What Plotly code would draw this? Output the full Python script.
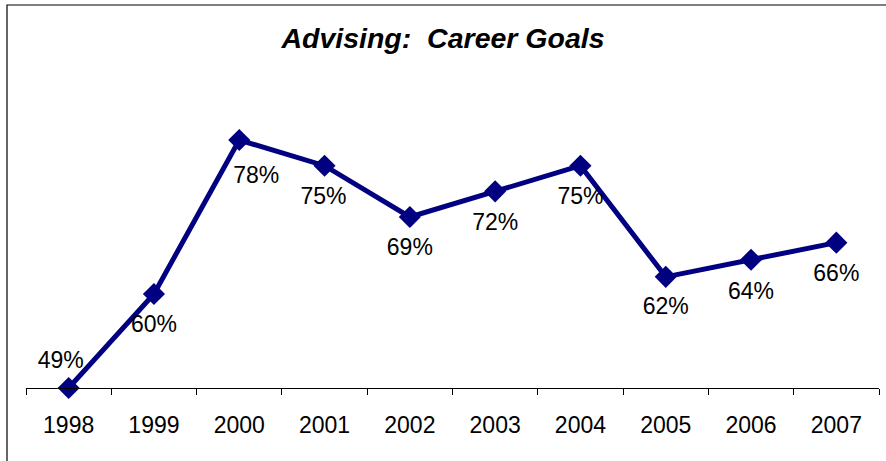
import plotly.graph_objects as go

years = [1998, 1999, 2000, 2001, 2002, 2003, 2004, 2005, 2006, 2007]
values = [49, 60, 78, 75, 69, 72, 75, 62, 64, 66]
labels = ["49%", "60%", "78%", "75%", "69%", "72%", "75%", "62%", "64%", "66%"]
tick_labels = ["1998", "1999", "2000", "2001", "2002", "2003", "2004", "2005", "2006", "2007"]

# label placement offsets in pixels (dx right, dy down)
label_offsets = [(-8, -26), (0, 32), (17, 37), (-1, 33), (0, 32),
                 (0, 33), (0, 33), (0, 31), (0, 33), (0, 33)]

W, H = 886, 461
L, R, T, B = 26, 7, 60, 73
pw = W - L - R
ph = H - T - B
ppu = 8.55
ytop = 49 + ph / ppu
x0, x1 = years[0] - 0.5, years[-1] + 0.5
ppx = pw / (x1 - x0)

FONT = "Liberation Sans, Arial, sans-serif"

fig = go.Figure()
fig.add_trace(go.Scatter(
    x=years, y=values, mode="lines+markers",
    line=dict(color="#000080", width=5),
    marker=dict(symbol="diamond", size=17, color="#000080"),
    cliponaxis=False, hoverinfo="skip",
))
fig.add_trace(go.Scatter(
    x=[x + dx / ppx for x, (dx, dy) in zip(years, label_offsets)],
    y=[v - dy / ppu for v, (dx, dy) in zip(values, label_offsets)],
    text=labels, mode="text", textposition="middle center",
    textfont=dict(family=FONT, size=23, color="black"),
    cliponaxis=False, hoverinfo="skip",
))

fig.add_shape(type="rect", xref="paper", yref="paper",
              x0=(7 - L) / pw, x1=(W + 20 - L) / pw,
              y0=(H - B - (H + 20)) / ph, y1=(H - B - 5) / ph,
              line=dict(color="black", width=1.2), fillcolor="rgba(0,0,0,0)", layer="below")

boundaries = [y - 0.5 for y in years] + [years[-1] + 0.5]

fig.update_layout(
    width=W, height=H,
    margin=dict(l=L, r=R, t=T, b=B, autoexpand=False),
    paper_bgcolor="white", plot_bgcolor="white",
    showlegend=False,
    title=dict(text="<b><i>Advising:  Career Goals</i></b>", x=0.5, xanchor="center",
               y=1 - 38 / H, yanchor="middle", yref="container",
               font=dict(family=FONT, size=28.5, color="black")),
    xaxis=dict(range=[x0, x1], tickmode="array", tickvals=years, ticktext=tick_labels,
               ticks="", showline=True, linecolor="black", linewidth=1,
               showgrid=False, zeroline=False, fixedrange=True,
               tickfont=dict(family=FONT, size=23, color="black"),
               ticklabelstandoff=16,
               minor=dict(tickmode="array", tickvals=boundaries, ticks="outside", ticklen=6,
                          tickcolor="black", tickwidth=1, showgrid=False)),
    yaxis=dict(range=[49, ytop], visible=False, showgrid=False, zeroline=False, fixedrange=True),
)

fig.write_html("out.html", config={"displayModeBar": False},
               post_script="document.body.style.margin='0';")
